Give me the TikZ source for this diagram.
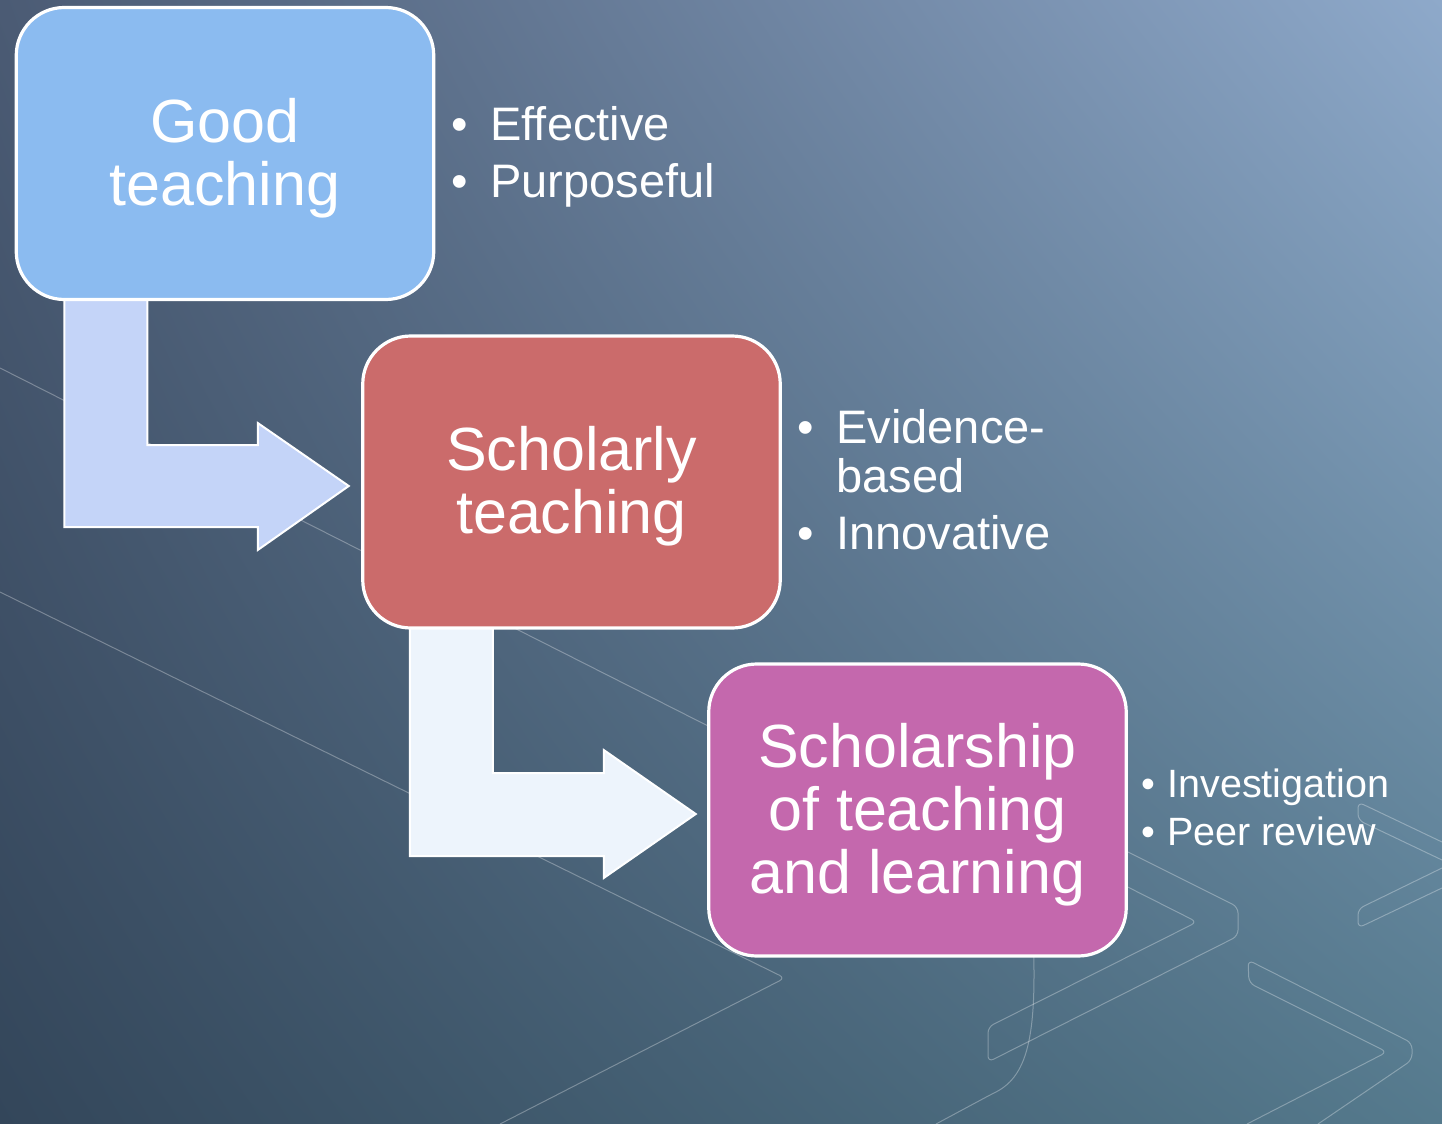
\documentclass[tikz,border=0pt]{standalone}
\usepackage{fontspec}
\setmainfont{Liberation Sans}
\usetikzlibrary{calc,shadings}
\pgfdeclarelayer{bg}
\pgfdeclarelayer{mid}
\pgfsetlayers{bg,mid,main}
\definecolor{boxA}{HTML}{8BBBF0}
\definecolor{boxB}{HTML}{CB6B6B}
\definecolor{boxC}{HTML}{C468AD}
\definecolor{arrA}{HTML}{C4D4F8}
\definecolor{arrB}{HTML}{EDF4FC}
\definecolor{bgUL}{HTML}{4B5B74}
\definecolor{bgUR}{HTML}{8EA9CA}
\definecolor{bgLL}{HTML}{33465A}
\definecolor{bgLR}{HTML}{557A8D}
\newcommand{\topstrut}{\rule{0pt}{26.6pt}}
\begin{document}
\begin{tikzpicture}[x=0.5pt,y=-0.5pt,
  stepbox/.style={draw=white, line width=1.6pt, rounded corners=24pt,
    minimum width=208.75pt, minimum height=146pt, text=white, align=center,
    font=\fontsize{30.5}{31.5}\selectfont, inner sep=0pt, outer sep=0pt},
  bullet/.style={text=white, inner sep=0pt, anchor=base},
  item/.style={text=white, inner sep=0pt, anchor=base west},
  big/.style={font=\fontsize{23.5}{24}\selectfont},
  small/.style={font=\fontsize{19.75}{24}\selectfont},
  bentarrow/.style={draw=white, line width=1pt, line join=miter},
  deco/.style={draw=white, draw opacity=0.3, line width=0.5pt, rounded corners=3pt}]

\useasboundingbox (0,0) rectangle (1442,1124);

% boxes
\node[stepbox, fill=boxA] (b1) at (225,153.5) {\topstrut Good\\teaching};
\node[stepbox, fill=boxB] (b2) at (571.5,482) {\topstrut Scholarly\\teaching};
\node[stepbox, fill=boxC] (b3) at (917.5,810) {\topstrut Scholarship\\of teaching\\and learning};

% bullet lists
\node[bullet,big] (g1b) at (460,140) {•};
\node[item,big] (g1) at (490,140) {Effective};
\node[bullet,big] (g2b) at (460,197) {•};
\node[item,big] (g2) at (490,197) {Purposeful};

\node[bullet,big] (s1b) at (806,443) {•};
\node[item,big] (s1) at (836,443) {Evidence-};
\node[item,big] (s1c) at (836,492) {based};
\node[bullet,big] (s2b) at (806,549) {•};
\node[item,big] (s2) at (836,549) {Innovative};

\node[bullet,small] (t1b) at (1148,797) {•};
\node[item,small] (t1) at (1167,797) {Investigation};
\node[bullet,small] (t2b) at (1148,845) {•};
\node[item,small] (t2) at (1167,845) {Peer review};

% connector anchors
\coordinate (a1s) at ($(b1.south west)+(48,0)$);
\coordinate (a1t) at ($(b2.west)+(-14,4)$);
\coordinate (a2s) at ($(b2.south west)+(47,0)$);
\coordinate (a2t) at ($(b3.west)+(-13,4)$);

\begin{pgfonlayer}{mid}
\draw[bentarrow, fill=arrA] (a1s) -- ++(83,0) |- ($(a1t)+(-91,-41)$) -- ++(0,-22)
  -- (a1t) -- ++(-91,64) -- ++(0,-23) -| (a1s) -- cycle;
\draw[bentarrow, fill=arrB] (a2s) -- ++(83,0) |- ($(a2t)+(-92,-41)$) -- ++(0,-23)
  -- (a2t) -- ++(-92,64) -- ++(0,-22) -| (a2s) -- cycle;
\end{pgfonlayer}

\begin{pgfonlayer}{bg}
\shade[upper left=bgUL, upper right=bgUR, lower left=bgLL, lower right=bgLR]
  (0,0) rectangle (1442,1124);
\draw[deco] (0,592) -- (785,978) -- (500,1124);
\draw[deco] (0,368) -- (900,823);
\draw[deco] (1100,838) -- (1238,907) -- (1238,936) -- (988,1062) -- (988,1027) -- (1197,922) -- (1100,873);
\draw[deco] (1033,930) .. controls (1037,1030) and (1030,1075) .. (990,1095) -- (936,1124);
\draw[deco] (1442,842) -- (1358,802) -- (1358,820) -- (1442,860);
\draw[deco] (1442,868) -- (1358,909) -- (1358,928) -- (1442,888);
\draw[deco] (1247,1124) -- (1387,1052) -- (1249,983) -- (1248,960) -- (1412,1043) -- (1412,1060) -- (1318,1124);
\end{pgfonlayer}
\end{tikzpicture}
\end{document}
